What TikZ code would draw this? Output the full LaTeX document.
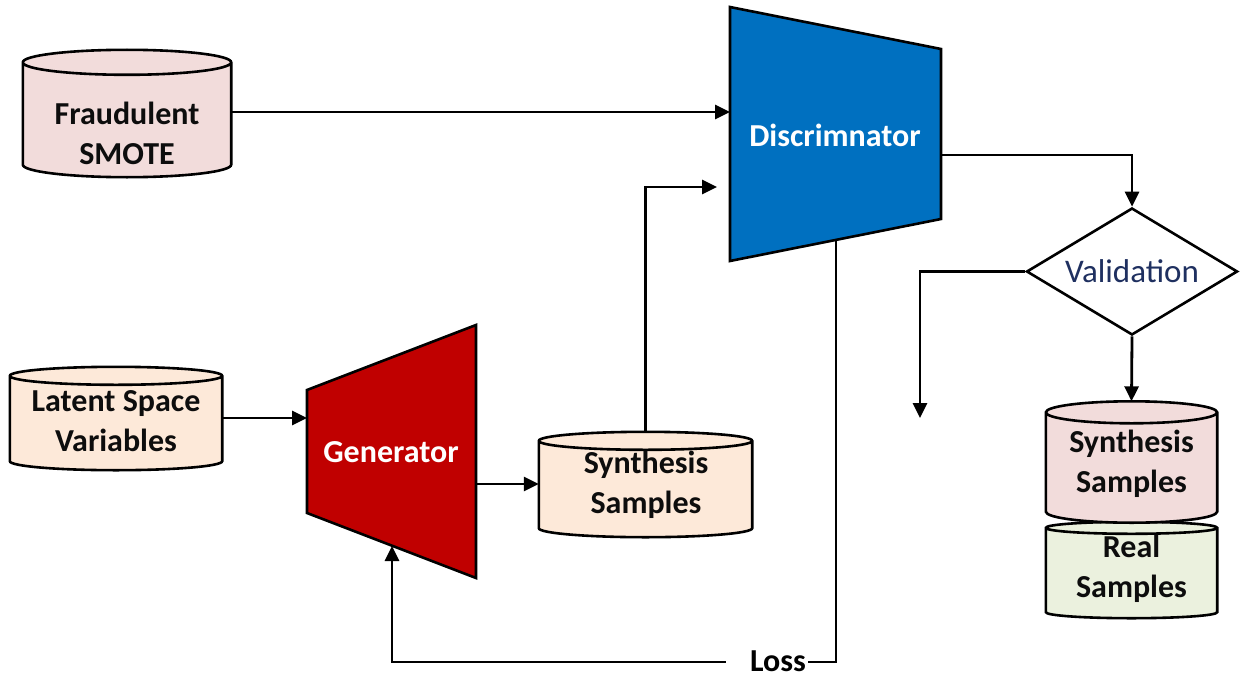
\documentclass[tikz,border=0pt]{standalone}
\usepackage{fontspec}
\setmainfont{Carlito}
\usetikzlibrary{arrows.meta,calc,backgrounds,shapes.geometric}
\definecolor{pinkfill}{HTML}{F2DCDB}
\definecolor{peachfill}{HTML}{FDE9D9}
\definecolor{greenfill}{HTML}{EBF1DE}
\definecolor{discblue}{HTML}{0070C0}
\definecolor{genred}{HTML}{C00000}
\definecolor{navytext}{HTML}{1F3060}

\newcommand\labelsize{\fontsize{32}{40}\selectfont}

% cylinder drawn around a named node: #1 node, #2 half height of the ellipse, #3 fill
\newcommand\drawdbcyl[3]{%
  \path let \p1=(#1.north west), \p2=(#1.south east), \n1={(\x2-\x1)/2} in
    [draw=black, line width=2.6pt, fill=#3]
    (\x1,\y1-#2pt) -- (\x1,\y2+#2pt)
    arc[start angle=180, end angle=360, x radius=\n1, y radius=#2pt]
    -- (\x2,\y1-#2pt)
    arc[start angle=0, end angle=180, x radius=\n1, y radius=#2pt] -- cycle
    (\x1,\y1-#2pt) arc[start angle=180, end angle=360, x radius=\n1, y radius=#2pt];
}

\tikzset{
  link/.style={line width=2.8pt, draw=black},
  arr/.style={link, -{Triangle[length=15pt,width=14pt]}},
  dbtext/.style={font=\labelsize\bfseries, text=black!95, align=center, inner sep=0pt},
  shapetext/.style={font=\labelsize\bfseries, text=white, inner sep=0pt},
}

\begin{document}
\begin{tikzpicture}[x=1pt, y=1pt, font=\labelsize]
\useasboundingbox (0,0) rectangle (1241,-677);

% database nodes, outlines drawn behind them
\node[dbtext, minimum width=208pt, minimum height=127pt] (smote) at (127,-113.5) {};
\node[dbtext] (smotetxt) at (127,-133) {Fraudulent\\SMOTE};
\node[dbtext, minimum width=212pt, minimum height=103pt] (latent) at (116,-418.5) {};
\node[dbtext] (latenttxt) at (116,-421) {Latent Space\\Variables};
\node[dbtext, minimum width=213pt, minimum height=105pt] (synth) at (645.5,-484.5) {};
\node[dbtext] (synthtxt) at (646,-484.5) {Synthesis\\Samples};
\node[dbtext, minimum width=171pt, minimum height=121pt] (synthout) at (1131.5,-462) {};
\node[dbtext] (synthouttxt) at (1131.5,-463.5) {Synthesis\\Samples};
\node[dbtext, minimum width=171pt, minimum height=96pt] (real) at (1131.5,-570) {};
\node[dbtext] (realtxt) at (1131.5,-568.5) {Real\\Samples};

% generator and discriminator blocks
\coordinate (g1) at (307,-390);
\coordinate (g2) at (476,-325);
\coordinate (g3) at (476,-578);
\coordinate (g4) at (307,-513);
\coordinate (d1) at (730,-7);
\coordinate (d2) at (941,-49);
\coordinate (d3) at (941,-219);
\coordinate (d4) at (730,-261);
\node[shapetext] (gen) at (391,-452) {Generator};
\node[shapetext] (disc) at (835,-135) {Discrimnator};

% validation decision
\node[draw, line width=2.6pt, shape=diamond, minimum width=211pt, minimum height=127pt,
  inner sep=0pt] (valid) at (1132,-271.5) {};
\node[text=navytext, inner sep=0pt, font=\fontsize{33}{40}\selectfont] (validtxt) at (1132,-271) {Validation};

\node[font=\labelsize\bfseries, inner xsep=1pt, inner ysep=0pt] (loss) at (778,-661) {Loss};

\begin{scope}[on background layer]
  \fill[white] (0,0) rectangle (1241,-677);
  \drawdbcyl{smote}{12.5}{pinkfill}
  \drawdbcyl{latent}{9}{peachfill}
  \drawdbcyl{real}{6}{greenfill}
  \drawdbcyl{synthout}{11}{pinkfill}
  \drawdbcyl{synth}{9}{peachfill}
  \filldraw[line width=2.6pt, fill=genred, line join=miter] (g1) -- (g2) -- (g3) -- (g4) -- cycle;
  \filldraw[line width=2.6pt, fill=discblue, line join=miter] (d1) -- (d2) -- (d3) -- (d4) -- cycle;
\end{scope}

% connectors
\draw[arr] (smote.east |- 0,-112) -- (d1 |- 0,-112);
\draw[arr] (latent.east |- 0,-418) -- (g1 |- 0,-418);
\draw[arr] (g2 |- 0,-484) -- (synth.west |- 0,-484);
\coordinate (synthtip) at (717,-187);
\draw[arr] (synth.north) |- (synthtip);
\draw[arr] (d2 |- 0,-155) -| (valid.north);
\coordinate (leftend) at (920,-418);
\draw[arr] (valid.west) -| (leftend);
\draw[arr] (valid.south) -- (synthout.north);
\coordinate (discbase) at (836,-240);
\coordinate (lossright) at ([xshift=1pt]loss.east |- 0,-662);
\coordinate (lossleft) at ([xshift=-23pt]loss.west |- 0,-662);
\draw[link] (discbase) |- (lossright);
\coordinate (genbase) at (392,-546);
\draw[arr] (lossleft) -| (genbase);
\end{tikzpicture}
\end{document}
